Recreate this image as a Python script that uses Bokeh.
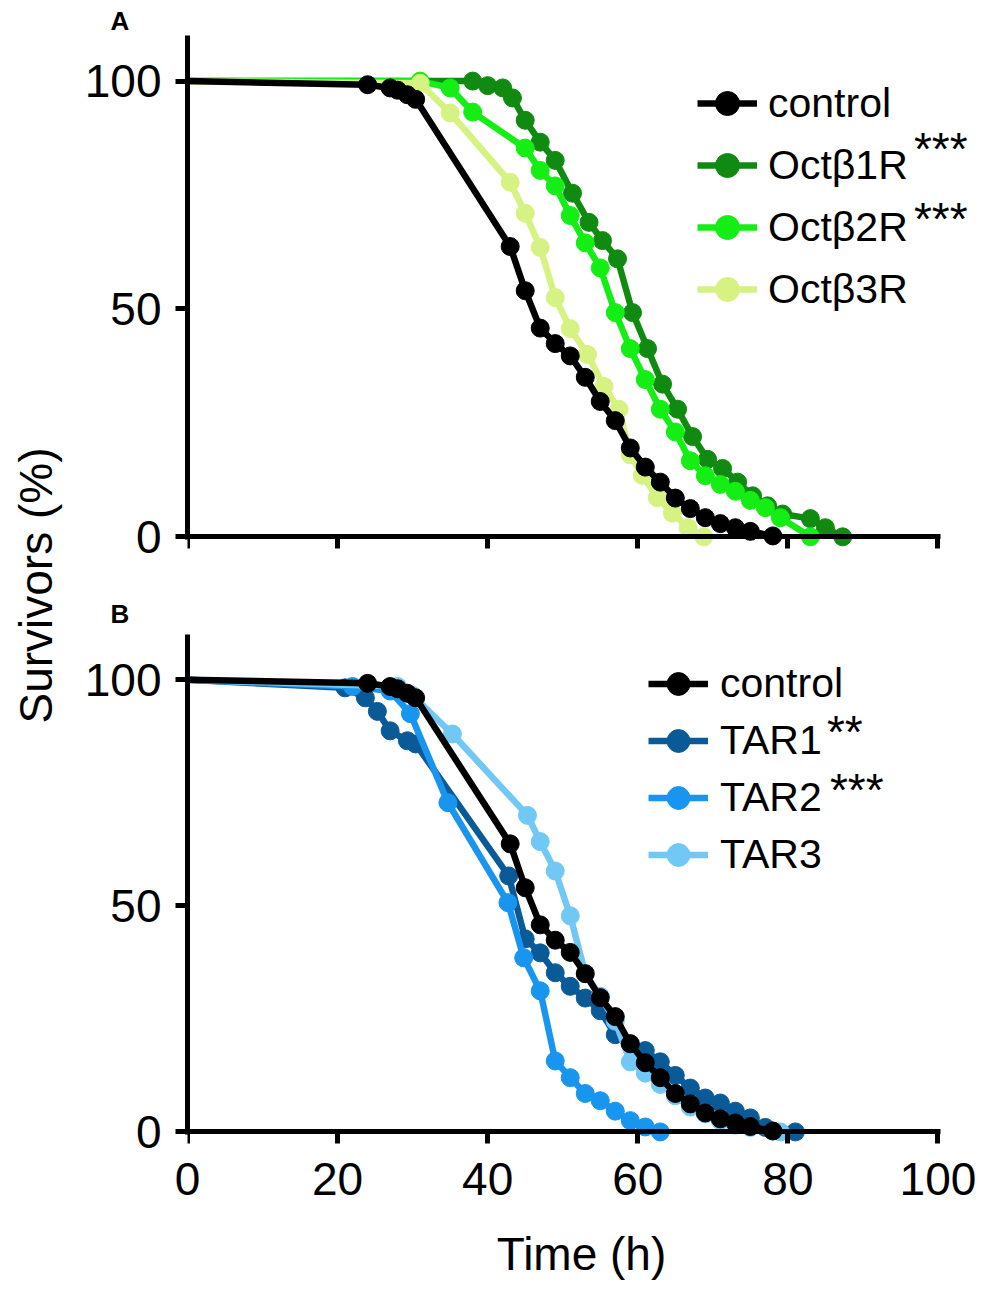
from math import pi
from bokeh.plotting import figure
from bokeh.models import Range1d, LinearAxis, FixedTicker, Legend, LegendItem, Label, Title
from bokeh.layouts import row, column
from bokeh.embed import file_html
from bokeh.resources import INLINE
from bokeh.core.properties import value

FONT = "Liberation Sans"

# ---------------- data (time in h, survivors in %) ----------------
control_t = [0, 24, 27, 28, 29.3, 30.4, 43, 45, 47, 49, 51, 53, 55, 57, 59, 61, 63, 65, 67, 69, 71, 73, 75, 78]
control_s = [100, 99.2, 98.5, 98, 97, 96, 63.7, 54, 45.8, 42.4, 39.7, 35, 29.7, 25.5, 19.5, 15.3, 12, 8.5, 6.2, 4.2, 2.9, 2, 1.2, 0.2]

octb1_t = [0, 38, 40, 42, 43.3, 45, 47, 49, 51.3, 53.5, 55.3, 57.3, 59.3, 61.3, 63.3, 65.3, 67.3, 69.3, 71.3, 73.3, 75.3, 77.3, 79.3, 83, 85, 87.3]
octb1_s = [100, 100, 99, 98.5, 96.3, 91.4, 86.6, 82.6, 75.4, 69, 65, 61, 49.2, 41.3, 33.5, 28, 22, 17, 15, 12, 9, 6.8, 5, 4, 2, 0]

octb2_t = [0, 31, 35, 38, 45, 47, 49, 51, 53, 55, 57, 59, 61, 63, 65, 67, 69, 71, 73, 75, 77, 79, 83]
octb2_s = [100, 100, 98.5, 93.2, 85.3, 80.4, 77, 70.5, 64.5, 59, 49.2, 41.3, 34.5, 28, 23, 16.7, 13.4, 11.5, 10, 8, 6.4, 4.2, 0]

octb3_t = [0, 31, 35, 43, 45, 47, 49, 51, 53.3, 55.5, 57.5, 59, 60.6, 62.6, 64.6, 66.7, 68.8]
octb3_s = [100, 99.5, 93, 77.8, 71, 63.5, 52.5, 45.7, 40, 33, 28, 18, 13.5, 8.6, 5.2, 2, 0]

tar1_t = [0, 21, 23.7, 25.3, 27, 29.3, 30.4, 42.8, 45, 47, 49, 51, 53, 55, 57, 59, 61, 63, 65, 67, 69, 71, 73, 75, 77, 81]
tar1_s = [100, 98.2, 96, 93, 88.7, 86.5, 85.8, 56.6, 42.7, 39.6, 35.2, 32.2, 29.6, 26.8, 21.5, 19.5, 18, 15.5, 12.5, 9.7, 7.5, 6.4, 4.6, 3.1, 1, 0]

tar2_t = [0, 22, 27, 29.7, 34.7, 42.7, 44.8, 47, 49, 51, 53, 55, 57, 59, 61, 63]
tar2_s = [100, 98.5, 97.5, 92.5, 72.8, 50.7, 38.5, 31.2, 15.7, 12, 8.5, 6.9, 4.6, 2.5, 1.1, 0]

tar3_t = [0, 28, 30, 35.3, 45.3, 47, 49, 51, 53, 55, 57, 59, 61, 63, 65, 67, 69, 71, 73, 75, 79]
tar3_s = [100, 98.5, 96.5, 88, 70, 64.2, 57.7, 47.8, 35, 30, 24.5, 15.5, 13, 10.5, 8, 5.5, 4, 2.5, 1.5, 1, 0]

x_ticks = [0, 20, 40, 60, 80, 100]
y_ticks = [0, 50, 100]

labels_a = ["control", "Octβ1R", "Octβ2R", "Octβ3R"]
labels_b = ["control", "TAR1", "TAR2", "TAR3"]
colors_a = ["#000000", "#118a11", "#14ee14", "#d6f282"]
colors_b = ["#000000", "#0b5a98", "#1895ee", "#72c8f4"]
stars_a = ["***", "***"]
stars_b = ["**", "***"]


def base_axis(ax):
    ax.axis_line_width = 5
    ax.axis_line_color = "black"
    ax.major_tick_line_width = 5
    ax.major_tick_line_color = "black"
    ax.minor_tick_line_width = 5
    ax.minor_tick_line_color = "black"
    ax.major_tick_in = 0
    ax.minor_tick_in = 0
    ax.major_label_text_font = FONT
    ax.major_label_text_font_size = "46px"
    ax.major_label_text_color = "black"


def make_panel(series, labels, colors, fheight, top, bottom, show_x, legend_pos, pitch, standoff,
               letter, letter_standoff):
    p = figure(frame_width=788, frame_height=fheight,
               x_range=Range1d(0, 105), y_range=Range1d(-3, 110),
               x_axis_type=None, y_axis_type=None,
               output_backend="svg", toolbar_location=None,
               min_border_left=119, min_border_right=6,
               min_border_top=top, min_border_bottom=bottom)
    p.title = Title(text=letter, align="left", offset=-77, standoff=letter_standoff,
                    text_font=FONT, text_font_size="26px", text_font_style="bold",
                    text_color="black")
    p.outline_line_color = None
    p.background_fill_color = "white"

    # y axis at x = 0 (frame left)
    yax = LinearAxis(bounds=(-0.5, 110), ticker=FixedTicker(ticks=y_ticks))
    base_axis(yax)
    yax.major_tick_out = 12
    yax.minor_tick_out = 0
    yax.major_label_standoff = 14
    p.add_layout(yax, "left")

    if show_x:
        # tick labels + title below the frame (no line, no ticks)
        lax = LinearAxis(bounds=(0, 100.4), ticker=FixedTicker(ticks=x_ticks))
        base_axis(lax)
        lax.axis_line_color = None
        lax.major_tick_line_color = None
        lax.major_tick_out = 0
        lax.minor_tick_out = 0
        lax.major_label_standoff = 17
        lax.axis_label = "Time (h)"
        lax.axis_label_text_font = FONT
        lax.axis_label_text_font_size = "46px"
        lax.axis_label_text_font_style = "normal"
        lax.axis_label_text_color = "black"
        lax.axis_label_standoff = 30
        p.add_layout(lax, "below")

    # x axis line and ticks at y = 0
    xax = LinearAxis(fixed_location=0, bounds=(0, 100.4),
                     ticker=FixedTicker(ticks=[], minor_ticks=x_ticks))
    base_axis(xax)
    xax.major_tick_out = 0
    xax.minor_tick_out = 12
    p.add_layout(xax, "below")

    rends = {}
    for i in [1, 2, 3, 0]:
        t, s = series[i]
        ln = p.line(t, s, line_width=6.5, color=colors[i])
        sc = p.scatter(t[1:], s[1:], size=18, color=colors[i])
        rends[i] = [ln, sc]

    items = [LegendItem(label=labels[i], renderers=rends[i]) for i in range(4)]
    leg = Legend(items=items, location=legend_pos)
    leg.label_text_font = FONT
    leg.label_text_font_size = "41px"
    leg.label_text_color = "black"
    leg.glyph_width = 60
    leg.glyph_height = pitch
    leg.label_height = pitch
    leg.label_standoff = standoff
    leg.spacing = 0
    leg.padding = 0
    leg.margin = 0
    leg.border_line_color = None
    leg.background_fill_alpha = 0
    p.add_layout(leg)
    return p


pa = make_panel([(control_t, control_s), (octb1_t, octb1_s), (octb2_t, octb2_s), (octb3_t, octb3_s)],
                labels_a, colors_a, 515, 35, 40, False, (510, 230), 62, 11, "A", 0)
pb = make_panel([(control_t, control_s), (tar1_t, tar1_s), (tar2_t, tar2_s), (tar3_t, tar3_s)],
                labels_b, colors_b, 511, 44, 150, True, (461, 262), 57, 12, "B", 12)

# significance stars
for txt, yy in zip(stars_a, [85.2, 69.8]):
    pa.add_layout(Label(x=96.8, y=yy, text=txt, text_font=FONT, text_font_size="46px",
                        text_color="black", text_align="left", text_baseline="middle"))
for txt, yy, xx in zip(stars_b, [88.4, 75.6], [85.2, 85.6]):
    pb.add_layout(Label(x=xx, y=yy, text=txt, text_font=FONT, text_font_size="46px",
                        text_color="black", text_align="left", text_baseline="middle"))

# shared y-axis title
lab = figure(frame_width=68, frame_height=1285, x_range=Range1d(0, 68), y_range=Range1d(0, 1285),
             x_axis_type=None, y_axis_type=None, output_backend="svg", toolbar_location=None,
             min_border=0)
lab.outline_line_color = None
lab.text(x=[35], y=[700], text=["Survivors (%)"], angle=pi / 2, text_align="center",
         text_baseline="middle", text_font=value(FONT), text_font_size="46px", text_color="black")

layout = row(lab, column(pa, pb))
open("out.html", "w").write(file_html(layout, INLINE))
